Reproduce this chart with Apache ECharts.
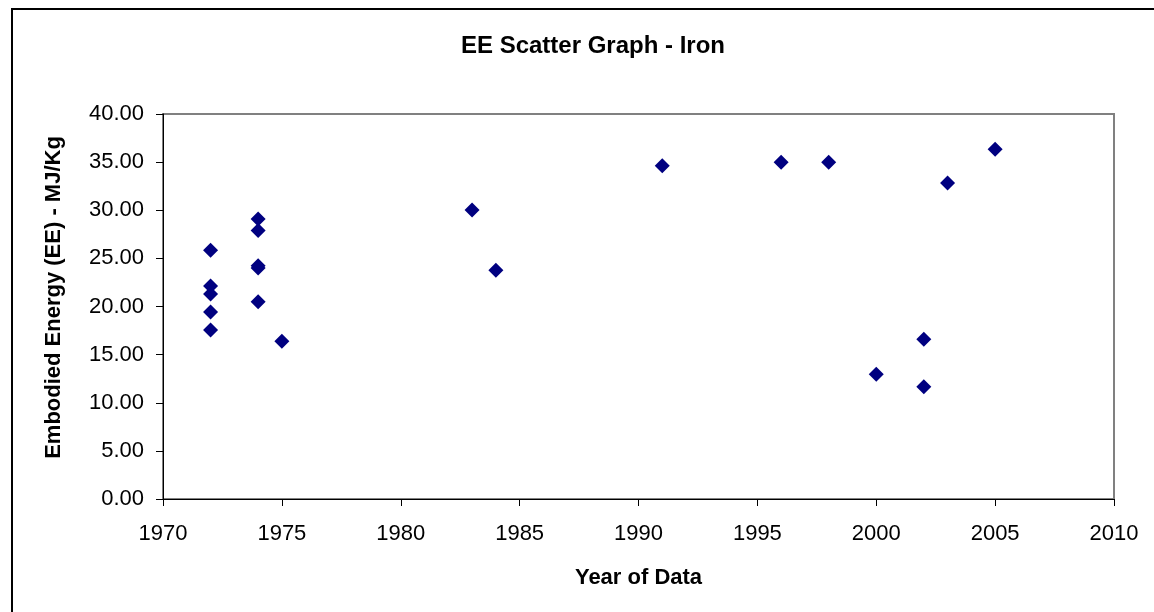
<!DOCTYPE html>
<html>
<head>
<meta charset="utf-8">
<title>EE Scatter Graph - Iron</title>
<script src="https://cdn.jsdelivr.net/npm/echarts@6/dist/echarts.min.js"></script>
<style>
  html, body { margin: 0; padding: 0; background: #fff; }
  #scatter { width: 1154px; height: 612px; }
</style>
</head>
<body>
<div id="scatter"></div>
<script>
// 数据：年份 / 内含能量 (MJ/Kg)
const years = [1972, 1972, 1972, 1972, 1972, 1974, 1974, 1974, 1974, 1974, 1975, 1983, 1984, 1991, 1996, 1998, 2000, 2002, 2002, 2003, 2005];
const energy = [25.84, 22.13, 21.30, 19.43, 17.56, 29.09, 27.90, 24.24, 24.00, 20.50, 16.38, 30.03, 23.76, 34.63, 35.00, 35.00, 12.95, 16.59, 11.67, 32.83, 36.33];
const xTicks = [1970, 1975, 1980, 1985, 1990, 1995, 2000, 2005, 2010];
const yTicks = [0, 5, 10, 15, 20, 25, 30, 35, 40];

const font = "'Liberation Sans', Arial, sans-serif";

const chart = echarts.init(document.getElementById("scatter"));

let option = {
  animation: false,
  backgroundColor: "#fff",
  title: {
    text: "EE Scatter Graph - Iron",
    left: 588,
    top: 29,
    textAlign: "center",
    textStyle: { fontFamily: font, fontSize: 24, fontWeight: "bold", color: "#000" },
  },
  // 外框
  graphic: [
    {
      type: "rect",
      shape: { x: 12, y: 9, width: 1300, height: 800 },
      style: { fill: "none", stroke: "#000", lineWidth: 2 },
      silent: true,
    },
  ],
  grid: {
    left: 163,
    right: 40,
    top: 114,
    bottom: 113,
    show: true,
    borderColor: "#808080",
    borderWidth: 2,
    backgroundColor: "#fff",
  },
  xAxis: {
    type: "value",
    min: xTicks[0],
    max: xTicks[xTicks.length - 1],
    interval: 5,
    name: "Year of Data",
    nameLocation: "middle",
    nameGap: 68,
    nameTextStyle: { fontFamily: font, fontSize: 22, fontWeight: "bold", color: "#000" },
    axisLine: { show: true, lineStyle: { color: "#000", width: 1 } },
    axisTick: { show: true, inside: false, length: 7, lineStyle: { color: "#000" } },
    axisLabel: {
      fontFamily: font,
      fontSize: 22,
      color: "#000",
      margin: 24,
      formatter: (v) => String(v), // 去掉千位分隔符
    },
    splitLine: { show: false },
  },
  yAxis: {
    type: "value",
    min: yTicks[0],
    max: yTicks[yTicks.length - 1],
    interval: 5,
    name: "Embodied Energy (EE) - MJ/Kg",
    nameLocation: "middle",
    nameGap: 98,
    nameTextStyle: {
      fontFamily: font,
      fontSize: 22,
      fontWeight: "bold",
      color: "#000",
      padding: [0, 0, 0, 18],
    },
    axisLine: { show: true, lineStyle: { color: "#000", width: 1 } },
    axisTick: { show: true, inside: false, length: 7, lineStyle: { color: "#000" } },
    axisLabel: {
      fontFamily: font,
      fontSize: 22,
      color: "#000",
      margin: 19,
      formatter: (v) => v.toFixed(2),
    },
    splitLine: { show: false },
  },
  series: [
    {
      name: "Iron",
      type: "scatter",
      symbol: "diamond",
      symbolSize: 15,
      itemStyle: { color: "#000080", opacity: 1 },
      data: years.map((y, i) => [y, energy[i]]),
    },
  ],
};

chart.setOption(option);

window.addEventListener("resize", () => chart.resize());
</script>
</body>
</html>
